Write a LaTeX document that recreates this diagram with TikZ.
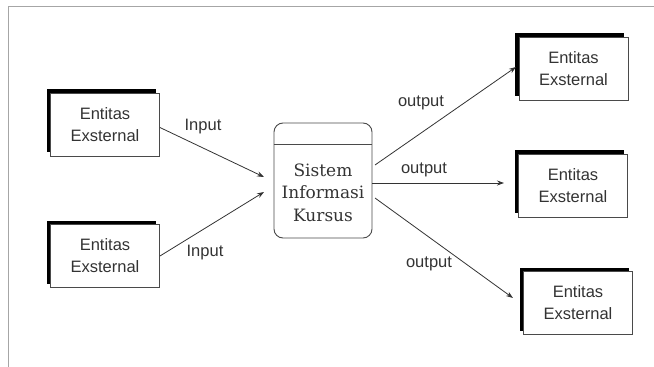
\documentclass[tikz,border=0pt]{standalone}
\usepackage{fontspec}
\setmainfont{Liberation Sans}
\newfontfamily\slabfont{DejaVu Serif}
\usetikzlibrary{arrows.meta,calc}
\definecolor{ink}{HTML}{333333}
\definecolor{edge}{HTML}{4A4A4A}
\begin{document}
\begin{tikzpicture}[x=1pt,y=-1pt,
  extbox/.style={draw=edge, line width=0.9pt, fill=white, minimum width=109pt, minimum height=63pt,
    inner sep=0pt, align=center, text=ink, font=\fontsize{16.5}{22}\selectfont,
    preaction={fill=black, transform canvas={xshift=-4pt,yshift=4pt}}},
  procbox/.style={draw=edge, line width=0.9pt, rounded corners=9pt, minimum width=98pt, minimum height=115pt,
    inner sep=0pt, align=center, text=ink, font=\slabfont\fontsize{17}{22.5}\selectfont},
  flow/.style={draw=ink, line width=0.8pt, -{Stealth[length=7pt,width=5pt]}},
  lbl/.style={text=ink, font=\fontsize{16.5}{18}\selectfont, inner sep=0pt}]
\useasboundingbox (0,0) rectangle (654,367);
\draw[gray!70, line width=1.5pt] (8.5,367) -- (8.5,6.5) -- (654,6.5);

\node[extbox] (L1) at (105,124.5) {Entitas\\Exsternal};
\node[extbox] (L2) at (105,256) {Entitas\\Exsternal};
\node[extbox] (R1) at (573.5,68.5) {Entitas\\Exsternal};
\node[extbox] (R2) at (573,185.5) {Entitas\\Exsternal};
\node[extbox] (R3) at (578,303) {Entitas\\Exsternal};

\node[procbox] (C) at (323,180.5) {};
\draw[edge, line width=0.9pt] ($(C.north west)+(0,22)$) -- ($(C.north east)+(0,22)$);
\node[procbox, draw=none, fill=none, minimum height=0pt] (CT) at (323,192.5) {Sistem\\Informasi\\Kursus};

\coordinate (in1) at (264,177);
\coordinate (in2) at (264,192);
\coordinate (o1s) at (375,165);
\coordinate (o2s) at (372,183);
\coordinate (o3s) at (375,198);
\coordinate (o1e) at (516,67);
\coordinate (o2e) at (504,183);
\coordinate (o3e) at (513,298);

\draw[flow] (L1.east) ++(0,3) -- (in1);
\draw[flow] (L2.east) -- (in2);
\draw[flow] (o1s) -- (o1e);
\draw[flow] (o2s) -- (o2e);
\draw[flow] (o3s) -- (o3e);

\node[lbl] (li1) at (203,127) {Input};
\node[lbl] (li2) at (205,253) {Input};
\node[lbl] (lo1) at (421,103) {output};
\node[lbl] (lo2) at (424,170) {output};
\node[lbl] (lo3) at (429,264) {output};
\end{tikzpicture}
\end{document}
